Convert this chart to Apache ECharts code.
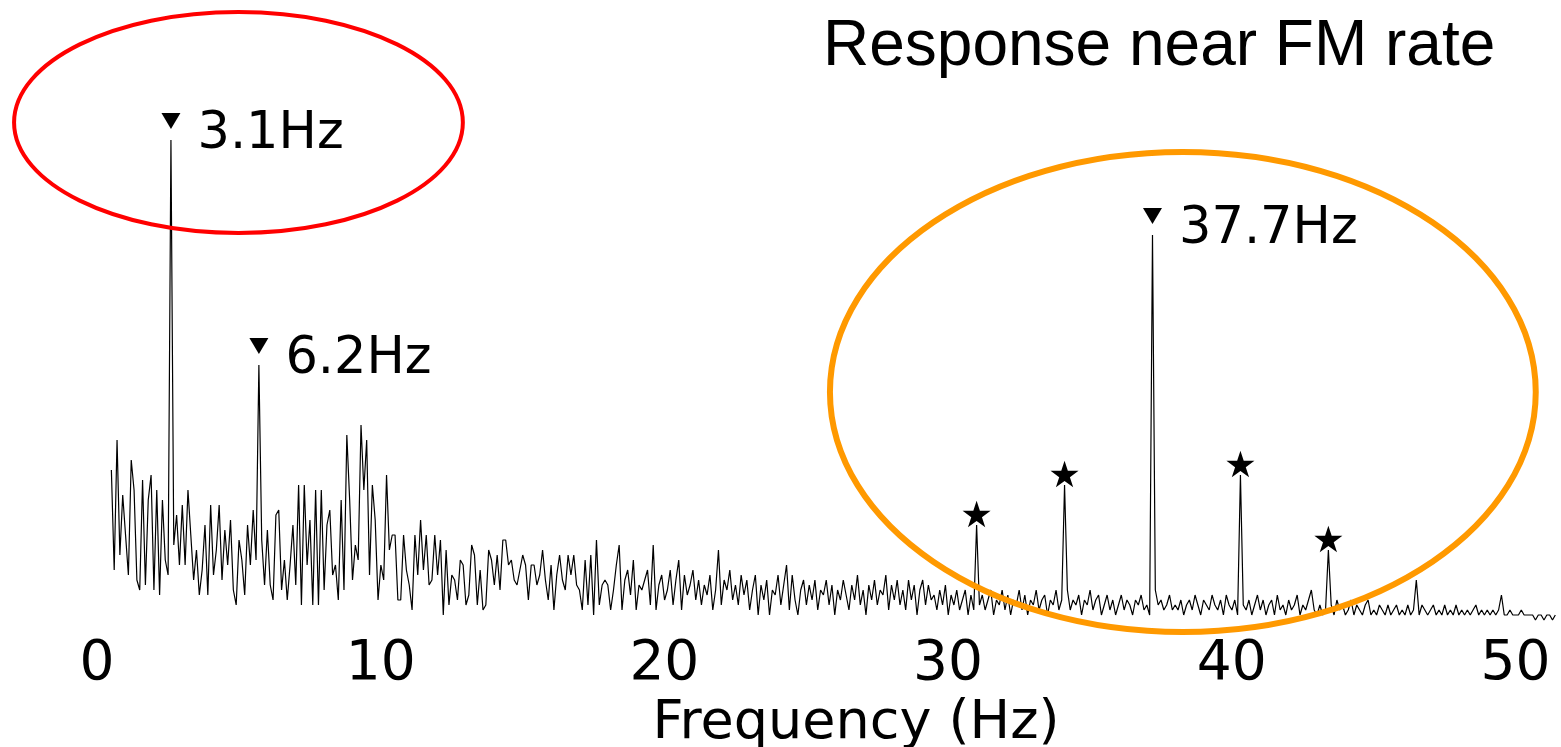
<!DOCTYPE html>
<html>
<head>
<meta charset="utf-8">
<title>Response near FM rate</title>
<script src="https://cdn.jsdelivr.net/npm/echarts@6/dist/echarts.min.js"></script>
<style>
  html, body { margin: 0; padding: 0; background: #fff; }
  #chart { width: 1561px; height: 747px; }
</style>
</head>
<body>
<div id="chart"></div>
<script>
// Amplitude spectrum, sampled every 0.1 Hz starting at 1.0 Hz
const FREQ_START = 1.0;
const FREQ_STEP = 0.1;

const amp01to10 = [
  32, 12, 38, 15, 27, 19, 11, 34, 28, 10,
  8, 30, 9, 26, 31, 8, 28, 7, 26, 14,
  11, 98, 17, 23, 13, 25, 13, 28, 19, 10,
  16, 7, 12, 21, 7, 25, 11, 16, 25, 10,
  20, 13, 22, 8, 5, 18, 14, 7, 21, 13,
  24, 14, 53, 18, 9, 20, 9, 6, 23, 24,
  8, 14, 6, 13, 21, 9, 29, 5, 29, 13,
  22, 5, 28, 5, 28, 8, 21, 24, 11, 13,
  6, 26, 8, 39, 26, 10, 17, 14, 41, 28
];

const amp10to20 = [
  38, 11, 29, 22, 6, 13, 10, 31, 16, 19,
  19, 6, 6, 19, 12, 9, 4, 19, 11, 22,
  12, 19, 9, 10, 19, 11, 18, 3, 16, 5,
  11, 10, 6, 14, 13, 5, 7, 17, 15, 5,
  12, 4, 5, 16, 14, 9, 15, 8, 18, 18,
  13, 14, 10, 9, 12, 15, 13, 6, 13, 13,
  9, 11, 16, 10, 6, 13, 4, 11, 15, 10,
  8, 15, 11, 15, 9, 8, 4, 14, 5, 15,
  3, 18, 5, 9, 10, 9, 4, 8, 13, 17,
  4, 10, 12, 7, 14, 4, 9, 8, 10, 12
];

const amp20to30 = [
  5, 17, 4, 9, 11, 6, 8, 12, 5, 10,
  14, 4, 11, 7, 9, 12, 6, 10, 5, 9,
  7, 11, 4, 8, 16, 5, 10, 8, 12, 6,
  9, 5, 11, 7, 10, 4, 8, 11, 3, 9,
  6, 10, 3, 8, 7, 11, 5, 9, 13, 4,
  11, 6, 3, 8, 10, 5, 9, 6, 10, 4,
  8, 7, 10, 5, 9, 3, 8, 6, 10, 7,
  4, 9, 6, 11, 5, 8, 3, 9, 6, 10,
  5, 8, 7, 11, 4, 9, 6, 10, 5, 8,
  4, 10, 6, 9, 3, 8, 10, 5, 9, 6
];

const amp30to40 = [
  7, 4, 8, 5, 9, 3, 7, 5, 8, 4,
  6, 8, 3, 7, 4, 21, 5, 7, 4, 6,
  8, 3, 6, 5, 8, 4, 7, 3, 6, 5,
  8, 4, 7, 3, 6, 5, 8, 4, 6, 7,
  3, 6, 5, 8, 4, 6, 29, 8, 4, 6,
  5, 7, 3, 6, 5, 8, 4, 6, 7, 3,
  5, 7, 4, 6, 3, 5, 7, 4, 6, 5,
  3, 6, 5, 7, 4, 5, 3, 79, 8, 5,
  6, 4, 5, 7, 4, 5, 4, 6, 3, 5,
  6, 4, 7, 5, 3, 6, 5, 4, 7, 5
];

const amp40to52 = [
  4, 6, 3, 7, 5, 4, 6, 3, 31, 5,
  4, 6, 3, 5, 7, 4, 6, 3, 5, 6,
  3, 7, 4, 5, 3, 6, 4, 5, 7, 3,
  5, 4, 6, 8, 4, 3, 5, 3, 4, 16,
  5, 3, 6, 4, 5, 3, 4, 6, 3, 5,
  4, 3, 5, 6, 3, 4, 3, 5, 4, 3,
  5, 3, 4, 5, 3, 4, 3, 5, 3, 4,
  10, 3, 5, 4, 3, 4, 5, 3, 4, 3,
  5, 3, 4, 3, 5, 3, 4, 3, 4, 3,
  4, 5, 3, 4, 3, 4, 3, 4, 3, 4,
  7, 3, 3, 4, 3, 3, 3, 4, 3, 3,
  3, 3, 2, 3, 3, 2, 3, 3, 2, 3
];

// Marked spectral lines
const peakFreqs = [3.1, 6.2, 37.7];
const peakLabels = ['3.1Hz', '6.2Hz', '37.7Hz'];
const sidebandFreqs = [31.5, 34.6, 40.8, 43.9];

// Axis ticks
const xTickMin = 0;
const xTickMax = 50;
const xTickStep = 10;

const amplitude = [].concat(amp01to10, amp10to20, amp20to30, amp30to40, amp40to52);
const spectrum = amplitude.map((v, i) => [+(FREQ_START + i * FREQ_STEP).toFixed(1), v]);
function ampAt(f) {
  return amplitude[Math.round((f - FREQ_START) / FREQ_STEP)];
}

const TITLE_FONT = "'Liberation Sans', Arial, Helvetica, sans-serif";
const FONT = "'DejaVu Sans', Verdana, sans-serif";
const STAR = 'path://M50,0 L61.2,34.5 L97.6,34.5 L68.2,55.9 L79.4,90.5 L50,69.1 L20.6,90.5 L31.8,55.9 L2.4,34.5 L38.8,34.5 Z';

const chart = echarts.init(document.getElementById('chart'), null, { renderer: 'canvas' });

chart.setOption({
  animation: false,
  backgroundColor: '#fff',
  title: {
    text: 'Response near FM rate',
    left: 818,
    top: 10,
    textStyle: { fontFamily: TITLE_FONT, fontSize: 64, fontWeight: 'normal', color: '#000' }
  },
  grid: {
    left: 83, right: 0, top: 130, bottom: 117,
    containLabel: false,
    outerBoundsMode: 'none'
  },
  xAxis: {
    type: 'value',
    min: xTickMin,
    max: 52.1,
    interval: xTickStep,
    name: 'Frequency (Hz)',
    nameLocation: 'middle',
    nameGap: 51,
    nameTextStyle: {
      fontFamily: FONT, fontSize: 54, color: '#000',
      padding: [0, 0, 0, 68]
    },
    axisLine: { show: false },
    axisTick: { show: false },
    splitLine: { show: false },
    axisLabel: {
      fontFamily: FONT, fontSize: 55, color: '#000',
      margin: 7,
      padding: [0, 0, 0, 28],
      showMaxLabel: false,
      formatter: v => (v >= xTickMin && v <= xTickMax && v % xTickStep === 0) ? String(v) : ''
    }
  },
  yAxis: {
    type: 'value',
    min: 0,
    max: 100,
    show: false
  },
  series: [
    {
      name: 'spectrum',
      type: 'line',
      data: spectrum,
      symbol: 'none',
      lineStyle: { color: '#000', width: 1.2 },
      z: 2
    },
    {
      name: 'peak markers',
      type: 'scatter',
      data: peakFreqs.map(f => [f, ampAt(f)]),
      symbol: 'triangle',
      symbolRotate: 180,
      symbolSize: [19, 16],
      symbolOffset: [0, -19],
      itemStyle: { color: '#000', opacity: 1 },
      z: 3
    },
    {
      name: 'peak labels',
      type: 'scatter',
      data: peakFreqs.map(f => [f, ampAt(f)]),
      symbolSize: 1,
      itemStyle: { color: 'rgba(0,0,0,0)', opacity: 1 },
      label: {
        show: true,
        position: 'right',
        distance: 26,
        offset: [0, -5],
        formatter: p => peakLabels[p.dataIndex],
        fontFamily: FONT,
        fontSize: 51,
        color: '#000',
        opacity: 1
      },
      z: 3
    },
    {
      name: 'sidebands',
      type: 'scatter',
      data: sidebandFreqs.map(f => [f, ampAt(f)]),
      symbol: STAR,
      symbolKeepAspect: true,
      symbolSize: 28,
      symbolOffset: [0, -11],
      itemStyle: { color: '#000', opacity: 1 },
      z: 3
    }
  ]
});

// Highlight ellipses, given in frequency / amplitude units
const highlightLow = { freq: 5.48, amp: 101.5, rFreq: 7.91, rAmp: 22.1, color: '#ff0000', width: 4 };
const highlightHigh = { freq: 38.77, amp: 47.6, rFreq: 12.44, rAmp: 48, color: '#ff9900', width: 6 };

function ellipseFor(e) {
  const c = chart.convertToPixel({ gridIndex: 0 }, [e.freq, e.amp]);
  const edge = chart.convertToPixel({ gridIndex: 0 }, [e.freq + e.rFreq, e.amp + e.rAmp]);
  return {
    type: 'ellipse',
    silent: true,
    z: 100,
    shape: { cx: c[0], cy: c[1], rx: Math.abs(edge[0] - c[0]), ry: Math.abs(c[1] - edge[1]) },
    style: { fill: 'none', stroke: e.color, lineWidth: e.width }
  };
}

chart.setOption({ graphic: [ellipseFor(highlightLow), ellipseFor(highlightHigh)] });
</script>
</body>
</html>
